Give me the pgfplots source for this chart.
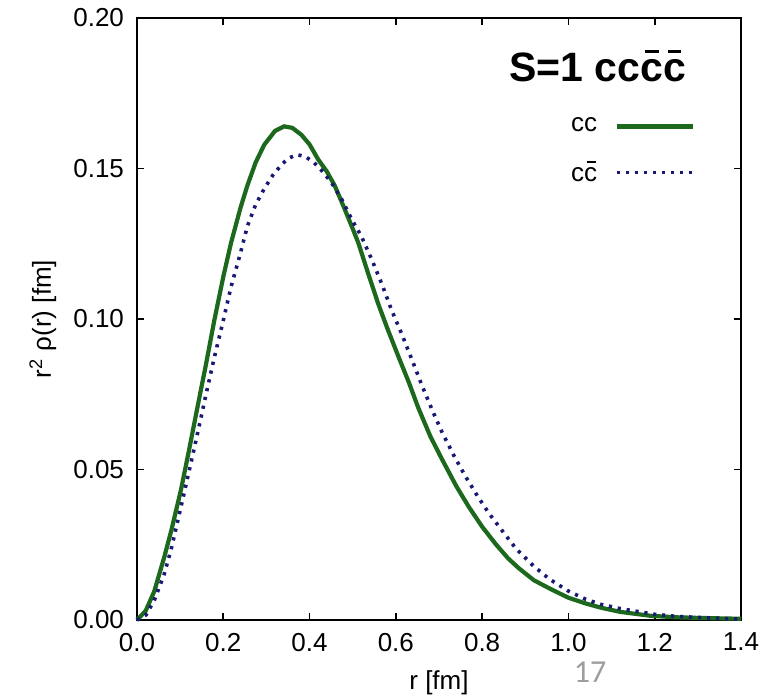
\documentclass[border=0pt]{standalone}
\usepackage{fontspec}
\setmainfont{Liberation Sans}
\newfontfamily\slidefont{Carlito}
\usepackage{pgfplots}
\usepackage{pgfplotstable}
\pgfplotsset{compat=1.18}

\definecolor{ccgreen}{RGB}{28,104,28}
\definecolor{ccblue}{RGB}{25,25,115}
% c with a short bar above it
\newcommand{\cb}{\makebox[0pt][l]{\hspace{0.1em}\raisebox{0.7em}{\rule{0.34em}{0.075em}}}c}

% cc pair
\pgfplotstableread{
r v
0 0
0.02 0.003
0.04 0.0095
0.063 0.0208
0.08 0.030
0.102 0.0433
0.12 0.056
0.141 0.0713
0.16 0.085
0.179 0.0994
0.20 0.114
0.218 0.1253
0.24 0.137
0.256 0.1444
0.275 0.152
0.295 0.1579
0.32 0.1625
0.341 0.164
0.36 0.1635
0.381 0.1612
0.40 0.158
0.42 0.153
0.44 0.149
0.458 0.1444
0.48 0.137
0.50 0.130
0.513 0.1253
0.535 0.1155
0.559 0.1051
0.58 0.097
0.606 0.0875
0.63 0.079
0.652 0.0705
0.68 0.061
0.707 0.0534
0.74 0.0445
0.769 0.0376
0.80 0.031
0.831 0.0253
0.86 0.0205
0.885 0.0172
0.92 0.0132
0.96 0.0102
1.0 0.0074
1.04 0.0055
1.075 0.0041
1.12 0.0027
1.19 0.0014
1.25 0.0009
1.3 0.0007
1.4 0.0004
}\cctab

% c cbar pair
\pgfplotstableread{
r v
0 0
0.021 0.0017
0.04 0.0065
0.063 0.0152
0.08 0.024
0.102 0.0376
0.12 0.049
0.141 0.0624
0.16 0.075
0.179 0.0871
0.20 0.0995
0.218 0.1107
0.24 0.122
0.256 0.1309
0.275 0.138
0.295 0.1433
0.315 0.1478
0.334 0.1511
0.35 0.1533
0.37 0.1546
0.39 0.1540
0.41 0.1520
0.427 0.1495
0.45 0.1455
0.474 0.1399
0.50 0.1325
0.520 0.1275
0.545 0.1195
0.567 0.1118
0.59 0.103
0.614 0.0949
0.64 0.0855
0.660 0.0781
0.685 0.0695
0.707 0.0624
0.735 0.0545
0.761 0.0478
0.79 0.041
0.816 0.0354
0.85 0.029
0.878 0.0238
0.92 0.0178
0.957 0.0135
1.0 0.0096
1.04 0.0069
1.075 0.0052
1.12 0.0038
1.153 0.003
1.2 0.0019
1.25 0.0012
1.308 0.0008
1.35 0.0005
1.4 0.0003
}\ccbartab

\begin{document}
\begin{tikzpicture}
\useasboundingbox (-68.5pt,-39pt) rectangle (315.5pt,310pt);
\begin{axis}[at={(0,0)},anchor=south west,scale only axis,
  width=302pt,height=301pt,
  xmin=0,xmax=1.4,ymin=0,ymax=0.2,
  xtick={0,0.2,0.4,0.6,0.8,1.0,1.2,1.4},
  ytick={0,0.05,0.1,0.15,0.2},
  scaled ticks=false,
  tick align=inside,major tick length=3.5pt,
  tick style={line width=0.9pt,black},
  axis line style={line width=1.1pt},
  xticklabel style={yshift=-3pt,/pgf/number format/.cd,fixed,fixed zerofill,precision=1},
  yticklabel style={xshift=-3pt,/pgf/number format/.cd,fixed,fixed zerofill,precision=2},
  /pgf/number format/assume math mode=true,
  tick label style={font=\fontsize{13}{15}\selectfont},
  label style={font=\fontsize{13}{15}\selectfont},
  xlabel={r [fm]},
  ylabel={r\textsuperscript{2} ρ(r) [fm]},
  xlabel style={at={(axis description cs:0.5,-0.105)},anchor=center},
  ylabel style={at={(axis description cs:-0.156,0.5)},anchor=center},
  clip=false,
  legend plot pos=right,
  legend cell align=right,
  legend image code/.code={\path (0pt,0pt); \draw[#1] (7pt,0pt) -- (45pt,0pt);},
  legend style={at={(rel axis cs:0.935,0.848)},anchor=north east,draw=none,fill=none,
    font=\fontsize{13}{15}\selectfont,row sep=9pt},
]
\addplot[ccgreen,line width=2.1pt] table[x=r,y=v] {\cctab};
\addlegendentry{cc}
\addplot[ccblue,line width=1.8pt,dash pattern=on 1.6pt off 2.9pt] table[x=r,y=v] {\ccbartab};
\addlegendentry{c\cb}
\node[anchor=base east,font=\bfseries\fontsize{20.5}{24}\selectfont] at (rel axis cs:0.921,0.894) {S=1 cc\cb\cb};
\node[font=\slidefont\fontsize{16}{19}\selectfont,text=black!38] at (rel axis cs:0.750,-0.087) {17};
\end{axis}
\end{tikzpicture}
\end{document}
